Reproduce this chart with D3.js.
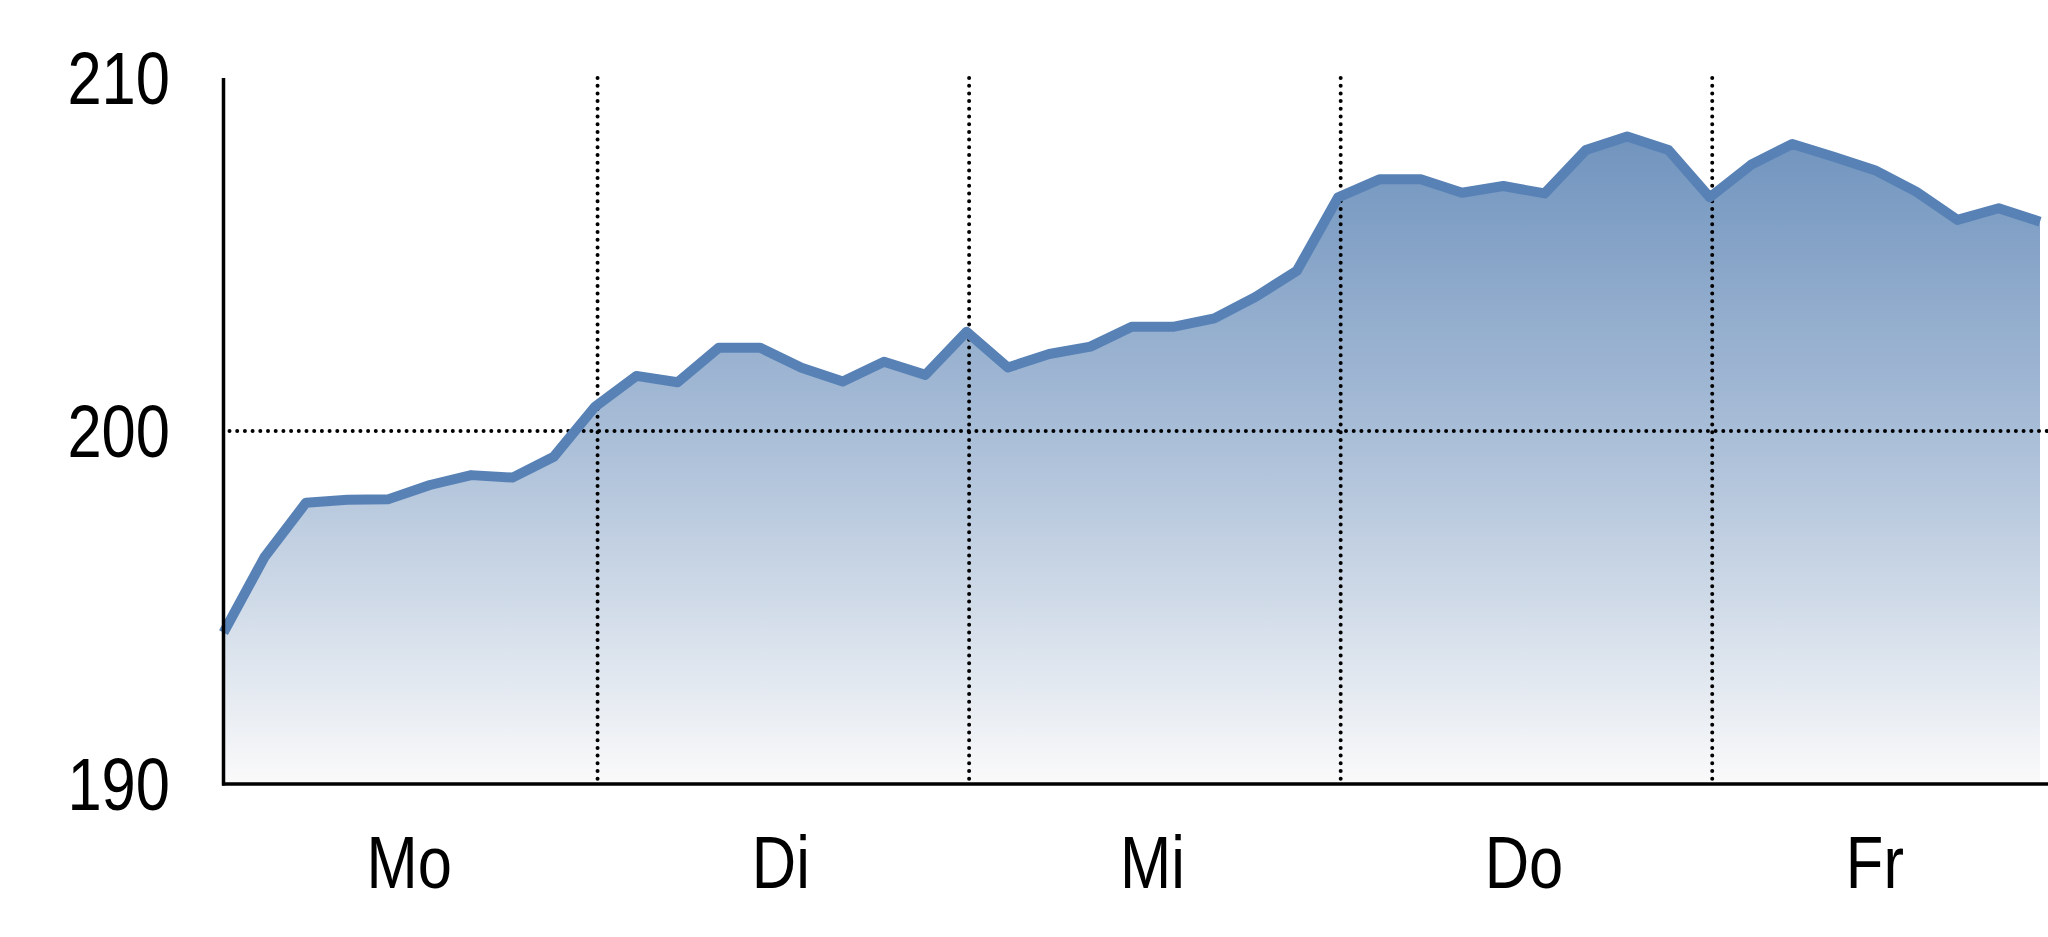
<!DOCTYPE html>
<html>
<head>
<meta charset="utf-8">
<script src="https://cdn.jsdelivr.net/npm/d3@7"></script>
<style>
  html, body { margin: 0; padding: 0; background: #ffffff; }
  svg { display: block; }
  text { font-family: "Liberation Sans", Arial, sans-serif; fill: #000; }
</style>
</head>
<body>
<svg id="chart" width="2048" height="937"></svg>
<script>
// ---------- data ----------
const days = ["Mo", "Di", "Mi", "Do", "Fr"];
const pointsPerDay = 9;
const yTicks = [190, 200, 210];
const values = [
  // Mo
  194.29, 196.44, 197.97, 198.05, 198.07, 198.47, 198.75, 198.68, 199.27,
  // Di
  200.69, 201.56, 201.38, 202.36, 202.36, 201.79, 201.40, 201.96, 201.59,
  // Mi
  202.81, 201.80, 202.18, 202.39, 202.95, 202.95, 203.19, 203.80, 204.54,
  // Do
  206.62, 207.13, 207.13, 206.75, 206.94, 206.73, 207.96, 208.34, 207.96,
  // Fr
  206.62, 207.54, 208.13, 207.77, 207.39, 206.78, 205.98, 206.31, 205.93
];

// ---------- layout ----------
const W = 2048, H = 937;
const mLeft = 223.5, mRight = 2040, mTop = 78, mBottom = 784;
const svg = d3.select("#chart");

const x = d3.scaleLinear().domain([0, values.length - 1]).range([mLeft, mRight]);
const y = d3.scaleLinear().domain([190, 210]).range([mBottom, mTop]);

// gradient
const defs = svg.append("defs");
const grad = defs.append("linearGradient")
  .attr("id", "fillGrad").attr("gradientUnits", "userSpaceOnUse")
  .attr("x1", 0).attr("x2", 0).attr("y1", y(210)).attr("y2", y(190));
grad.append("stop").attr("offset", "0%").attr("stop-color", "#668cb9");
grad.append("stop").attr("offset", "50%").attr("stop-color", "#a8bdd7");
grad.append("stop").attr("offset", "100%").attr("stop-color", "#fafafa");

// area
const area = d3.area().x((d, i) => x(i)).y0(y(190)).y1(d => y(d));
svg.append("path").datum(values).attr("d", area).attr("fill", "url(#fillGrad)");

// dotted grid style
const dotted = { stroke: "#000", "stroke-width": 4, "stroke-linecap": "round", "stroke-dasharray": "0 7.7" };
function applyStyle(sel, st) { Object.entries(st).forEach(([k, v]) => sel.attr(k, v)); return sel; }

// horizontal at 200
applyStyle(svg.append("line")
  .attr("x1", mLeft + 6).attr("x2", W).attr("y1", y(200)).attr("y2", y(200)), dotted);

// vertical day separators
const seps = d3.range(1, days.length).map(k => k * pointsPerDay);
applyStyle(svg.selectAll(".vsep").data(seps).enter().append("line")
  .attr("class", "vsep")
  .attr("x1", d => x(d) + 2.5).attr("x2", d => x(d) + 2.5)
  .attr("y1", mTop).attr("y2", mBottom - 2), dotted);

// line
const line = d3.line().x((d, i) => x(i)).y(d => y(d));
svg.append("path").datum(values).attr("d", line)
  .attr("fill", "none").attr("stroke", "#5882b6").attr("stroke-width", 10)
  .attr("stroke-linejoin", "round").attr("stroke-linecap", "butt");

// axes lines
svg.append("line").attr("x1", mLeft).attr("x2", mLeft).attr("y1", mTop).attr("y2", mBottom + 1.5)
  .attr("stroke", "#000").attr("stroke-width", 3.5);
svg.append("line").attr("x1", mLeft - 1.5).attr("x2", W).attr("y1", mBottom).attr("y2", mBottom)
  .attr("stroke", "#000").attr("stroke-width", 3.5);

// narrow text helper (Arial-Narrow look)
const narrow = 0.82;
function narrowText(g, px, py, txt, anchor) {
  g.append("text")
    .attr("transform", `translate(${px},${py}) scale(${narrow},1)`)
    .attr("text-anchor", anchor)
    .attr("font-size", 75)
    .text(txt);
}

// y tick labels
const yg = svg.append("g");
yTicks.forEach(t => narrowText(yg, 170, y(t) + 26, String(t), "end"));

// x day labels
const xg = svg.append("g");
days.forEach((d, k) => {
  const s = k * pointsPerDay;
  const e = Math.min((k + 1) * pointsPerDay, values.length - 1);
  narrowText(xg, x((s + e) / 2), 888, d, "middle");
});
</script>
</body>
</html>
